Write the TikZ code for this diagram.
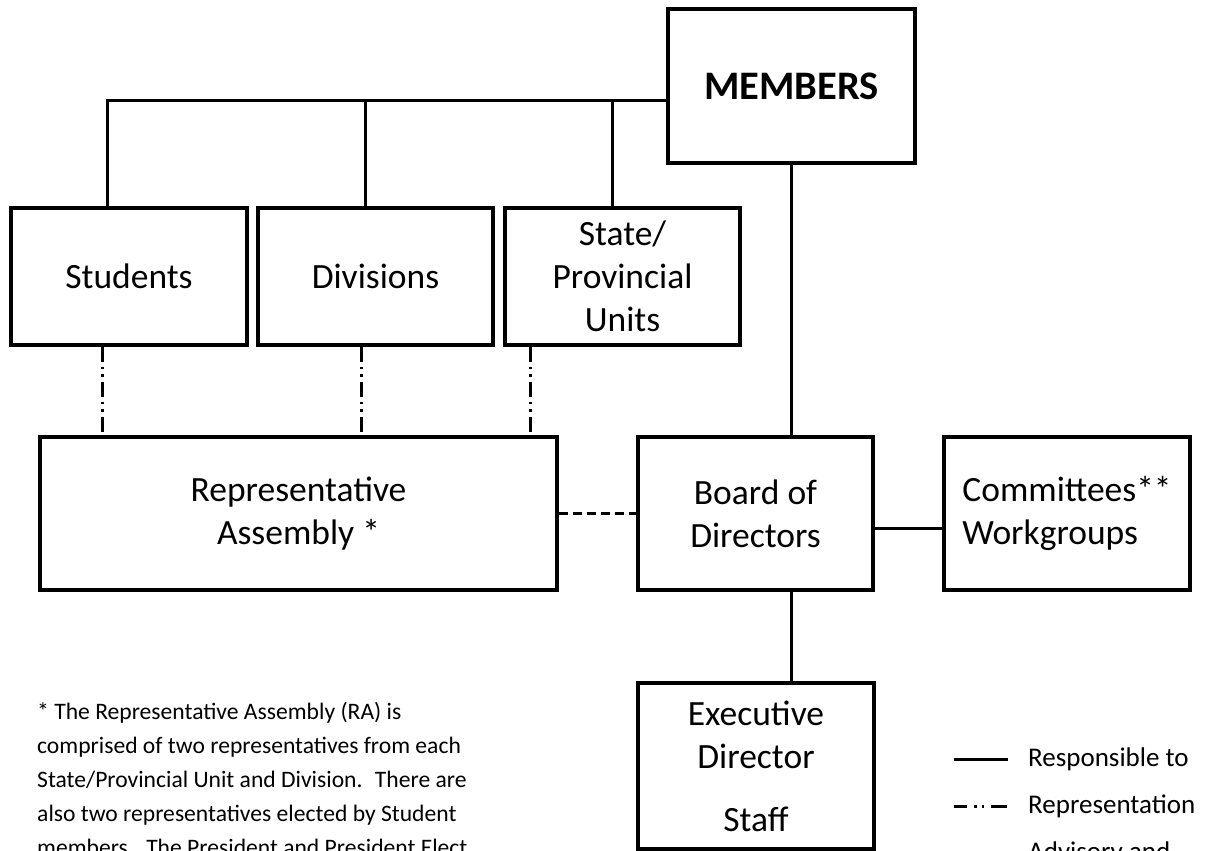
\documentclass[tikz,border=0pt]{standalone}
\usepackage{fontspec}
\setmainfont{Carlito}
\begin{document}
\begin{tikzpicture}[x=1pt,y=-1pt,
    box/.style={draw,line width=3.2pt,inner sep=0pt,align=center,font=\fontsize{35.5}{43}\selectfont},
    resp/.style={line width=3pt},
    repline/.style={line width=3pt,dash pattern=on 15pt off 5pt on 2.5pt off 5pt on 2.5pt off 5pt},
    advline/.style={line width=3pt,dash pattern=on 9pt off 5pt},
    legend/.style={anchor=west,inner sep=0pt,font=\fontsize{27}{30}\selectfont}]
  \useasboundingbox (0,0) rectangle (1208,851);
  \clip (0,0) rectangle (1208,851);
  % boxes
  \node[box,minimum width=247pt,minimum height=154pt,font=\bfseries\fontsize{40.5}{48}\selectfont] (members) at (791.5,86) {MEMBERS};
  \node[box,minimum width=236pt,minimum height=137pt] (students) at (129,276.5) {Students};
  \node[box,minimum width=235pt,minimum height=137pt] (divisions) at (375.5,276.5) {Divisions};
  \node[box,minimum width=235pt,minimum height=137pt] (state) at (622.5,276.5) {State/\\Provincial\\Units};
  \node[box,minimum width=517pt,minimum height=153pt] (ra) at (298.5,513.5) {Representative\\Assembly *};
  \node[box,minimum width=235pt,minimum height=153pt] (board) at (755.5,513.5) {Board of\\Directors};
  \node[box,minimum width=246pt,minimum height=153pt,align=left] (comm) at (1067,513.5) {Committees**\\Workgroups};
  \node[box,minimum width=236pt,minimum height=166pt] (exec) at (756,766) {Executive\\Director\\[20pt]Staff};
  % responsible to
  \coordinate (bus) at (107,100);
  \draw[resp] ([xshift=-22pt]students.north) |- (members.west |- bus);
  \draw[resp] ([xshift=-10pt]divisions.north) |- (bus);
  \draw[resp] ([xshift=-10pt]state.north) |- (bus);
  \draw[resp] (members.south) -- (members.south |- board.north);
  \draw[resp] (members.south |- board.south) -- (members.south |- exec.north);
  \draw[resp] ([yshift=-15pt]board.east) -- ([yshift=-15pt]comm.west);
  % representation
  \draw[repline] ([xshift=-27pt]students.south) -- ([xshift=-27pt]students.south |- ra.north);
  \draw[repline] ([xshift=-14pt]divisions.south) -- ([xshift=-14pt]divisions.south |- ra.north);
  \draw[repline] ([xshift=-92.5pt]state.south) -- ([xshift=-92.5pt]state.south |- ra.north);
  % advisory
  \draw[advline] (ra.east) -- (board.west);
  % note
  \node[anchor=north west,inner sep=0pt,align=left,font=\fontsize{23.6}{34}\selectfont] (note) at (37,702)
    {* The Representative Assembly (RA) is\\comprised of two representatives from each\\State/Provincial Unit and Division.~ There are\\also two representatives elected by Student\\members.~ The President and President Elect};
  % legend
  \node[legend] (lgresp) at (1028,759) {Responsible to};
  \node[legend] (lgrep) at (1028,806) {Representation};
  \node[legend] (lgadv) at (1028,853) {Advisory and};
  \draw[resp] ([xshift=-20pt]lgresp.west) -- ++(-54,0);
  \draw[line width=3pt,dash pattern=on 13pt off 7pt on 2.5pt off 5pt on 2.5pt off 7pt on 20pt off 1pt] ([xshift=-74pt]lgrep.west) -- ++(53,0);
  \draw[advline] ([xshift=-74pt]lgadv.west) -- ++(52,0);
\end{tikzpicture}
\end{document}
